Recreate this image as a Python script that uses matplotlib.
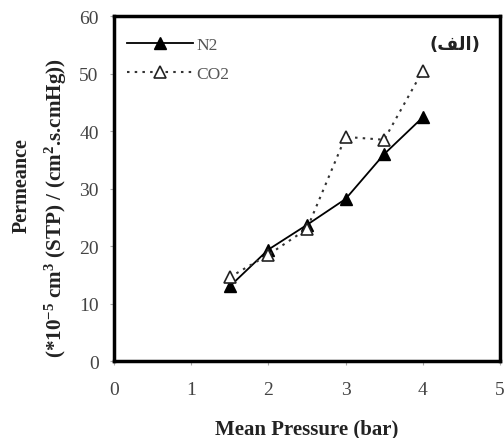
import matplotlib.pyplot as plt

# data
pressure = [1.5, 2.0, 2.5, 3.0, 3.5, 4.0]
n2 = [13.0, 19.4, 23.7, 28.2, 36.0, 42.4]
co2 = [14.6, 18.5, 23.0, 39.0, 38.5, 50.5]

xticks = [0, 1, 2, 3, 4, 5]
yticks = [0, 10, 20, 30, 40, 50, 60]

# "(الف)" written in visual order with presentation forms (no shaping in matplotlib)
panel_label = "(\uFED2\uFEDF\uFE8D)"

plt.rcParams["font.family"] = ["Liberation Serif", "DejaVu Sans"]
plt.rcParams["mathtext.fontset"] = "custom"
plt.rcParams["mathtext.rm"] = "Liberation Serif:bold"
plt.rcParams["mathtext.it"] = "Liberation Serif:bold"
plt.rcParams["mathtext.bf"] = "Liberation Serif:bold"


def main():
    fig = plt.figure(figsize=(5.04, 4.39), dpi=100)
    ax = fig.add_axes([0.226, 0.175, 0.766, 0.786])

    ax.plot(pressure, n2, color="black", lw=1.3, marker="^", ms=8,
            mfc="black", mec="black", label="N2")
    ax.plot(pressure, co2, color="#333333", lw=1.5, ls=(0, (1.2, 2.5)),
            marker="^", ms=8, mfc="white", mec="#222222", mew=1.2,
            label="CO2")

    ax.set_xlim(0, 5)
    ax.set_ylim(0, 60)
    ax.set_xticks(xticks)
    ax.set_yticks(yticks)
    ax.tick_params(direction="out", length=3, width=0.8, color="#aaaaaa",
                   labelsize=14, labelcolor="#444444")
    ax.tick_params(axis="x", pad=11)
    ax.tick_params(axis="y", pad=8)
    for s in ax.spines.values():
        s.set_linewidth(2.5)

    ax.set_xlabel("Mean Pressure (bar)", fontsize=15, fontweight="bold",
                  color="#222222", labelpad=15)
    fig.text(0.044, 0.578, "Permeance", rotation=90, ha="center",
             va="center", fontsize=14.5, fontweight="bold", color="#222222")
    fig.text(0.11, 0.526,
             r"(*10$^{-5}$ cm$^{3}$ (STP) / (cm$^{2}$.s.cmHg))",
             rotation=90, ha="center", va="center", fontsize=15.2,
             fontweight="bold", color="#222222")

    ax.text(0.948, 0.919, panel_label, transform=ax.transAxes, ha="right",
            va="center", fontsize=13, fontweight="bold", color="#222222",
            family=["DejaVu Sans"])

    leg = ax.legend(loc="upper left", frameon=False, fontsize=12.5,
                    handlelength=3.8, handletextpad=0.2, labelspacing=0.75,
                    borderaxespad=0.0, bbox_to_anchor=(0.015, 0.96))
    for t in leg.get_texts():
        t.set_color("#555555")

    fig.savefig("out.png", dpi=100)


if __name__ == "__main__":
    main()
